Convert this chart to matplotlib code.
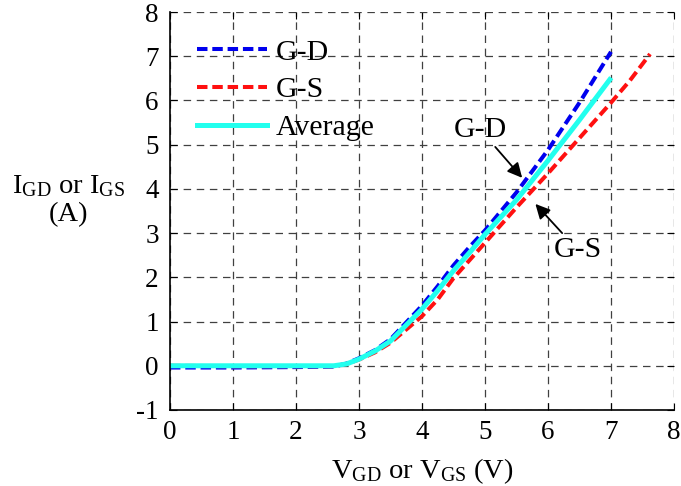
import numpy as np
import matplotlib.pyplot as plt

plt.rcParams['font.family'] = ['Liberation Serif', 'DejaVu Serif']
plt.rcParams['mathtext.fontset'] = 'custom'
plt.rcParams['mathtext.rm'] = 'Liberation Serif'
plt.rcParams['axes.unicode_minus'] = False

# G-D curve
x_gd = [0, 1, 2, 2.6, 2.8, 3.0, 3.25, 3.5, 3.75, 4.0, 4.25, 4.5, 4.75, 5.0, 5.5, 6.0, 6.5, 7.0]
y_gd = [-0.04, -0.04, -0.03, -0.02, 0.05, 0.17, 0.35, 0.6, 0.98, 1.36, 1.8, 2.27, 2.68, 3.06, 3.92, 4.88, 5.95, 7.1]

# G-S curve
x_gs = [0, 1, 2, 2.6, 2.8, 3.0, 3.25, 3.5, 3.75, 4.0, 4.25, 4.5, 4.75, 5.0, 5.5, 6.0, 6.5, 7.0, 7.3, 7.62]
y_gs = [0.0, -0.01, -0.01, -0.01, 0.04, 0.14, 0.3, 0.52, 0.82, 1.12, 1.5, 1.98, 2.38, 2.78, 3.58, 4.35, 5.15, 5.95, 6.45, 7.05]

# average
x_av = [0, 1, 2, 2.6, 2.8, 3.0, 3.25, 3.5, 3.75, 4.0, 4.25, 4.5, 4.75, 5.0, 5.5, 6.0, 6.5, 6.98]
y_av = [0.0, 0.0, 0.0, 0.0, 0.04, 0.15, 0.33, 0.56, 0.92, 1.28, 1.7, 2.15, 2.55, 2.97, 3.75, 4.64, 5.56, 6.47]

fig = plt.figure(figsize=(6.81, 4.86), dpi=100)
ax = fig.add_axes([0.2496, 0.1564, 0.7401, 0.8189])

ax.plot(x_gd, y_gd, color='#0000ee', lw=2.9, dashes=(2.6, 1.2), label='G-D')
ax.plot(x_gs, y_gs, color='#ff1010', lw=2.9, dashes=(2.6, 1.2), label='G-S')
ax.plot(x_av, y_av, color='#22ffee', lw=3.6, label='Average')

ax.set_xlim(0, 8)
ax.set_ylim(-1, 8)
ax.set_xticks(np.arange(0, 9, 1))
ax.set_yticks(np.arange(-1, 9, 1))
ax.grid(True, color='0.25', ls=(0, (6, 4.5)), lw=0.9)
ax.spines['top'].set_visible(False)
ax.spines['right'].set_visible(False)
ax.spines['left'].set_linewidth(1.2)
ax.spines['bottom'].set_linewidth(1.2)
ax.tick_params(direction='in', top=True, right=True, labelsize=19.5, length=5)
ax.tick_params(axis='x', pad=7)
ax.tick_params(axis='y', pad=8)

ax.set_xlabel(r'$\mathrm{V_{GD}}$ or $\mathrm{V_{GS}}$ (V)', fontsize=20.5, labelpad=8)
fig.text(0.1, 0.588, r'$\mathrm{I_{GD}}$ or $\mathrm{I_{GS}}$' + '\n(A)', fontsize=20.5,
         ha='center', va='center', linespacing=1.15)

# arrows pointing at the curves
ax.annotate('G-D', xy=(5.59, 4.25), xytext=(4.93, 5.33), fontsize=21.5, ha='center', va='center',
            arrowprops=dict(arrowstyle='-|>', color='k', lw=1.3, mutation_scale=22, shrinkA=1, shrinkB=0))
ax.annotate('G-S', xy=(5.80, 3.66), xytext=(6.47, 2.62), fontsize=21.5, ha='center', va='center',
            arrowprops=dict(arrowstyle='-|>', color='k', lw=1.3, mutation_scale=22, shrinkA=1, shrinkB=0))

ax.legend(loc='upper left', bbox_to_anchor=(0.0, 1.0), frameon=False, fontsize=21.5,
          handlelength=2.35, handletextpad=0.3, labelspacing=0.36, borderaxespad=0.5)

fig.savefig('out.png', dpi=100)
